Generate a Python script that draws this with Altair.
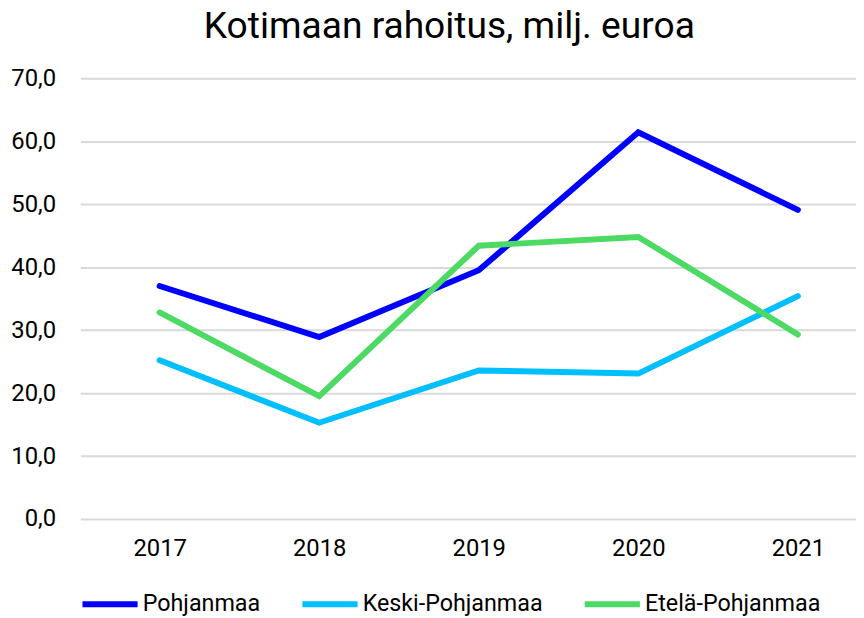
import altair as alt
import pandas as pd

years = ["2017", "2018", "2019", "2020", "2021"]
series_names = ["Pohjanmaa", "Keski-Pohjanmaa", "Etelä-Pohjanmaa"]
pohjanmaa = [37.0, 28.9, 39.5, 61.4, 49.1]
keski_pohjanmaa = [25.2, 15.3, 23.6, 23.1, 35.4]
etela_pohjanmaa = [32.8, 19.5, 43.4, 44.8, 29.3]
colors = ["#0000FF", "#00BFFF", "#4CD964"]
y_ticks = [0, 10, 20, 30, 40, 50, 60, 70]

rows = []
for name, vals in zip(series_names, [pohjanmaa, keski_pohjanmaa, etela_pohjanmaa]):
    for y, v in zip(years, vals):
        rows.append({"Vuosi": y, "Arvo": v, "Alue": name})
df = pd.DataFrame(rows)

FONT = "Roboto"

chart = alt.Chart(df).mark_line(strokeWidth=6, strokeCap="round", strokeJoin="miter").encode(
    x=alt.X("Vuosi:N", sort=years, title=None,
            scale=alt.Scale(type="point", padding=0.4308, align=0.577),
            axis=alt.Axis(labelAngle=0, domain=False, ticks=False, grid=False,
                          labelFontSize=24, labelPadding=18, labelColor="#000000", labelFont=FONT)),
    y=alt.Y("Arvo:Q", title=None,
            scale=alt.Scale(domain=[0, 70], nice=False),
            axis=alt.Axis(values=y_ticks, domain=False, ticks=False, grid=True,
                          gridColor="#d9d9d9", gridWidth=2,
                          labelExpr="replace(format(datum.value, '.1f'), '.', ',')",
                          labelFontSize=24, labelPadding=25, labelColor="#000000", labelFont=FONT)),
    color=alt.Color("Alue:N", sort=series_names,
                    scale=alt.Scale(domain=series_names, range=colors),
                    legend=alt.Legend(title=None, orient="none", legendX=-1, legendY=500,
                                      direction="horizontal", symbolType="stroke",
                                      symbolSize=3100, symbolStrokeWidth=6,
                                      labelFontSize=23.5, labelFont=FONT, labelColor="#000000",
                                      labelOffset=2, columnPadding=30, labelLimit=300)),
).properties(
    width=783,
    height=445,
    title=alt.TitleParams("Kotimaan rahoitus, milj. euroa", fontSize=37.5, font=FONT,
                          fontWeight="normal", color="#000000", anchor="middle",
                          dx=-19, offset=21),
    autosize=alt.AutoSizeParams(type="none"),
    padding={"left": 73, "top": 68, "right": 0, "bottom": 97},
).configure_view(stroke=None)

chart.save("out.html", embed_options={"renderer": "svg", "actions": False})
